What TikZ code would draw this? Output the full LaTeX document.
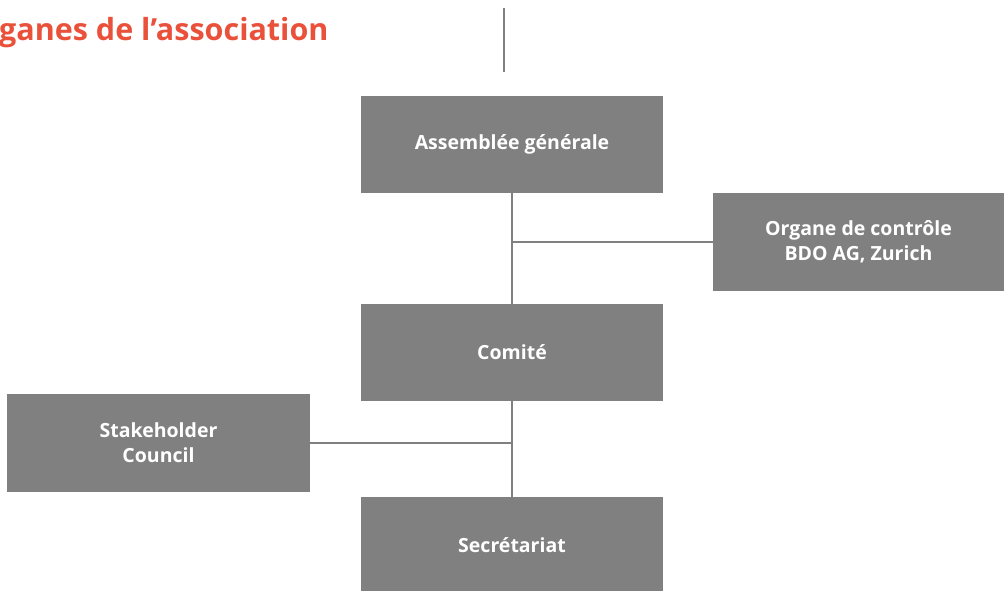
\documentclass[tikz,border=0pt]{standalone}
\usepackage{fontspec}
\setmainfont{Open Sans}
\usepackage{xcolor}
\usetikzlibrary{calc}

\definecolor{boxgray}{RGB}{128,128,128}
\definecolor{titleorange}{RGB}{233,81,59}

\tikzset{
	organbox/.style={fill=boxgray, text=white, font=\fontsize{19.5}{25}\selectfont\bfseries,
		minimum width=302pt, minimum height=97pt, inner sep=0pt, align=center},
	link/.style={draw=boxgray, line width=2.5pt}
}

\begin{document}
\begin{tikzpicture}[x=1pt, y=-1pt]
	\def\mid{512};
	\useasboundingbox (0,0) rectangle (1004,591);

	% title and rule
	\node [anchor=base west, inner sep=0pt, text=titleorange, font=\fontsize{30.5}{34}\selectfont\bfseries] (title) at (-1,41) {ganes de l’association};
	\coordinate (ruleTop) at (504,8);
	\coordinate (ruleBottom) at (504,72);
	\draw[link] (ruleTop) -- (ruleBottom);

	% boxes
	\node [organbox] (assemblee) at (\mid,144.5) {Assemblée générale};
	\node [organbox, minimum width=291pt, minimum height=98pt] (organe) at (858.5,242) {Organe de contrôle\\BDO AG, Zurich};
	\node [organbox] (comite) at (\mid,352.5) {Comité};
	\node [organbox, minimum width=303pt, minimum height=98pt] (stakeholder) at (158.5,443) {Stakeholder\\Council};
	\node [organbox] (secretariat) at (\mid,545.5) {Secrétariat};

	% connectors
	\coordinate (forkOrgane) at (\mid,242);
	\coordinate (forkCouncil) at (\mid,443);
	\draw[link] (assemblee.south) -- (comite.north);
	\draw[link] (forkOrgane) -- (organe.west);
	\draw[link] (comite.south) -- (secretariat.north);
	\draw[link] (stakeholder.east) -- (forkCouncil);
\end{tikzpicture}
\end{document}
